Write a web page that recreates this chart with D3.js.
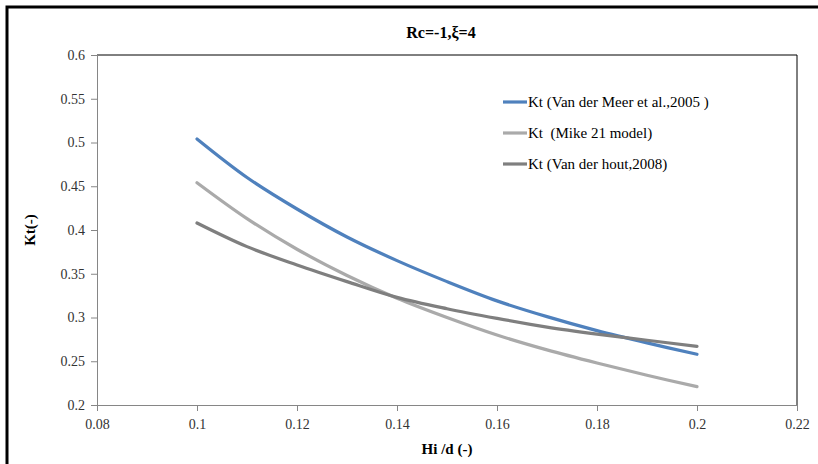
<!DOCTYPE html>
<html>
<head>
<meta charset="utf-8">
<script src="https://cdn.jsdelivr.net/npm/d3@7"></script>
<style>
  body { margin: 0; background: #fff; }
  text { font-family: "Liberation Serif", "Times New Roman", serif; }
</style>
</head>
<body>
<svg id="chart" width="818" height="464"></svg>
<script>
// data
var hiD = [0.10, 0.11, 0.12, 0.13, 0.14, 0.15, 0.16, 0.17, 0.18, 0.19, 0.20];
var ktVanDerMeer = [0.504, 0.460, 0.424, 0.392, 0.365, 0.341, 0.319, 0.301, 0.285, 0.271, 0.258];
var ktMike21 = [0.454, 0.413, 0.378, 0.348, 0.322, 0.300, 0.280, 0.263, 0.248, 0.234, 0.221];
var ktVanDerHout = [0.408, 0.381, 0.360, 0.341, 0.323, 0.310, 0.299, 0.289, 0.281, 0.274, 0.267];
var seriesNames = ["Kt (Van der Meer et al.,2005 )", "Kt  (Mike 21 model)", "Kt (Van der hout,2008)"];
var seriesColors = ["#4f81bd", "#aaaaaa", "#7f7f7f"];
var xTicks = [0.08, 0.1, 0.12, 0.14, 0.16, 0.18, 0.2, 0.22];
var yTicks = [0.2, 0.25, 0.3, 0.35, 0.4, 0.45, 0.5, 0.55, 0.6];

var svg = d3.select("#chart");
var plotL = 97, plotR = 797, plotT = 55, plotB = 405;
var serif = "'Liberation Serif', 'Times New Roman', serif";

// outer frame
svg.append("rect")
    .attr("x", 7).attr("y", 7)
    .attr("width", 840).attr("height", 500)
    .attr("fill", "none")
    .attr("stroke", "#000")
    .attr("stroke-width", 3);

var x = d3.scaleLinear().domain([0.08, 0.22]).range([plotL, plotR]);
var y = d3.scaleLinear().domain([0.2, 0.6]).range([plotB, plotT]);

// plot border top/right
svg.append("path")
    .attr("d", "M" + plotL + "," + plotT + "H" + plotR + "V" + plotB)
    .attr("fill", "none")
    .attr("stroke", "#000")
    .attr("stroke-width", 1);

var fmt = function (d) { return String(+d.toFixed(2)); };

var xAxis = svg.append("g")
    .attr("transform", "translate(0," + plotB + ")")
    .call(d3.axisBottom(x).tickValues(xTicks).tickSize(6).tickPadding(8).tickFormat(fmt));
var yAxis = svg.append("g")
    .attr("transform", "translate(" + plotL + ",0)")
    .call(d3.axisLeft(y).tickValues(yTicks).tickSize(6).tickPadding(6).tickFormat(fmt));

[xAxis, yAxis].forEach(function (a) {
    a.attr("font-family", serif).attr("font-size", 14);
    a.select(".domain").attr("stroke", "#868686");
    a.selectAll(".tick line").attr("stroke", "#868686");
    a.selectAll(".tick text").attr("fill", "#333");
});

var line = d3.line()
    .x(function (d) { return x(d[0]); })
    .y(function (d) { return y(d[1]); })
    .curve(d3.curveCatmullRom);

[ktVanDerMeer, ktMike21, ktVanDerHout].forEach(function (vals, i) {
    svg.append("path")
        .datum(hiD.map(function (h, j) { return [h, vals[j]]; }))
        .attr("d", line)
        .attr("fill", "none")
        .attr("stroke", seriesColors[i])
        .attr("stroke-width", 3.2)
        .attr("stroke-linecap", "round");
});

// legend
var legend = svg.append("g").attr("transform", "translate(503,102)");
seriesNames.forEach(function (name, i) {
    var g = legend.append("g").attr("transform", "translate(0," + (i * 31) + ")");
    g.append("line")
        .attr("x1", 0).attr("x2", 24)
        .attr("stroke", seriesColors[i])
        .attr("stroke-width", 3.2);
    g.append("text")
        .attr("x", 25).attr("y", 5)
        .attr("fill", "#000")
        .attr("font-family", serif)
        .attr("font-size", 15)
        .attr("xml:space", "preserve")
        .style("white-space", "pre")
        .text(name);
});

// titles
svg.append("text")
    .attr("x", 441).attr("y", 38)
    .attr("text-anchor", "middle")
    .attr("font-family", serif)
    .attr("font-size", 16).attr("font-weight", "bold")
    .text("Rc=-1,ξ=4");

svg.append("text")
    .attr("x", 447).attr("y", 454)
    .attr("text-anchor", "middle")
    .attr("font-family", serif)
    .attr("font-size", 15).attr("font-weight", "bold")
    .text("Hi /d (-)");

svg.append("text")
    .attr("transform", "translate(35,230) rotate(-90)")
    .attr("text-anchor", "middle")
    .attr("font-family", serif)
    .attr("font-size", 15).attr("font-weight", "bold")
    .text("Kt(-)");
</script>
</body>
</html>
